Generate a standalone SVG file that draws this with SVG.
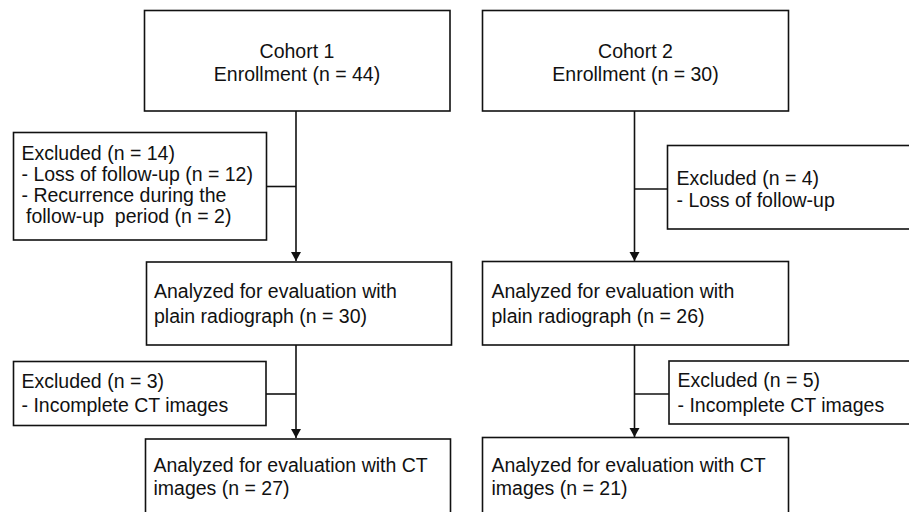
<svg xmlns="http://www.w3.org/2000/svg" width="909" height="512" viewBox="0 0 909 512">
<style>
.box{fill:#fff;stroke:#111;stroke-width:1.6}
.t{font-family:"Liberation Sans",Arial,sans-serif;font-size:19.5px;fill:#111}
.c{text-anchor:middle}
.ln{fill:none;stroke:#111;stroke-width:1.6}
</style>
<rect width="909" height="512" fill="#fff"/>
<g id="connectors">
<line class="ln" x1="296" y1="111" x2="296" y2="261"/>
<line class="ln" x1="266.5" y1="186.5" x2="296" y2="186.5"/>
<line class="ln" x1="296" y1="345" x2="296" y2="438"/>
<line class="ln" x1="266" y1="394" x2="296" y2="394"/>
<line class="ln" x1="634.5" y1="111" x2="634.5" y2="261"/>
<line class="ln" x1="634.5" y1="189" x2="667.5" y2="189"/>
<line class="ln" x1="634.5" y1="345" x2="634.5" y2="437"/>
<line class="ln" x1="634.5" y1="394" x2="669" y2="394"/>
<path d="M291,252 L301,252 L296,261 Z" fill="#111"/>
<path d="M291,429 L301,429 L296,438 Z" fill="#111"/>
<path d="M629.5,252 L639.5,252 L634.5,261 Z" fill="#111"/>
<path d="M629.5,428 L639.5,428 L634.5,437 Z" fill="#111"/>
</g>
<g id="cohort1">
<rect class="box" x="144.5" y="10.5" width="305.5" height="100.5"/>
<text class="t c" x="297" y="58">Cohort 1</text>
<text class="t c" x="297" y="81">Enrollment (n = 44)</text>
</g>
<g id="excluded1">
<rect class="box" x="13.5" y="132.5" width="253" height="107.5"/>
<text class="t" x="21.5" y="159.5">Excluded (n = 14)</text>
<text class="t" x="21.5" y="180.5">- Loss of follow-up (n = 12)</text>
<text class="t" x="21.5" y="201.5">- Recurrence during the</text>
<text class="t" x="26" y="222.5" xml:space="preserve" style="white-space:pre">follow-up  period (n = 2)</text>
</g>
<g id="analyzed1">
<rect class="box" x="146.5" y="262" width="305" height="83"/>
<text class="t" x="154" y="298">Analyzed for evaluation with</text>
<text class="t" x="154" y="322.5">plain radiograph (n = 30)</text>
</g>
<g id="excluded3">
<rect class="box" x="13.5" y="361.5" width="252.5" height="64"/>
<text class="t" x="21.5" y="388">Excluded (n = 3)</text>
<text class="t" x="21.5" y="412">- Incomplete CT images</text>
</g>
<g id="ct1">
<rect class="box" x="145.5" y="439" width="305" height="80"/>
<text class="t" x="153.5" y="471.5">Analyzed for evaluation with CT</text>
<text class="t" x="153.5" y="495">images (n = 27)</text>
</g>
<g id="cohort2">
<rect class="box" x="482.5" y="10.5" width="306" height="100.5"/>
<text class="t c" x="635.5" y="58">Cohort 2</text>
<text class="t c" x="635.5" y="81">Enrollment (n = 30)</text>
</g>
<g id="excluded2">
<rect class="box" x="667.5" y="145.5" width="260" height="83.5"/>
<text class="t" x="676.5" y="184.5">Excluded (n = 4)</text>
<text class="t" x="676.5" y="206.5">- Loss of follow-up</text>
</g>
<g id="analyzed2">
<rect class="box" x="482.5" y="261.5" width="306" height="83.5"/>
<text class="t" x="491.5" y="298">Analyzed for evaluation with</text>
<text class="t" x="491.5" y="322.5">plain radiograph (n = 26)</text>
</g>
<g id="excluded4">
<rect class="box" x="669" y="361" width="260" height="63"/>
<text class="t" x="677.5" y="387">Excluded (n = 5)</text>
<text class="t" x="677.5" y="411.5">- Incomplete CT images</text>
</g>
<g id="ct2">
<rect class="box" x="482.5" y="437.5" width="306" height="80"/>
<text class="t" x="491.5" y="471.5">Analyzed for evaluation with CT</text>
<text class="t" x="491.5" y="495">images (n = 21)</text>
</g>
</svg>
